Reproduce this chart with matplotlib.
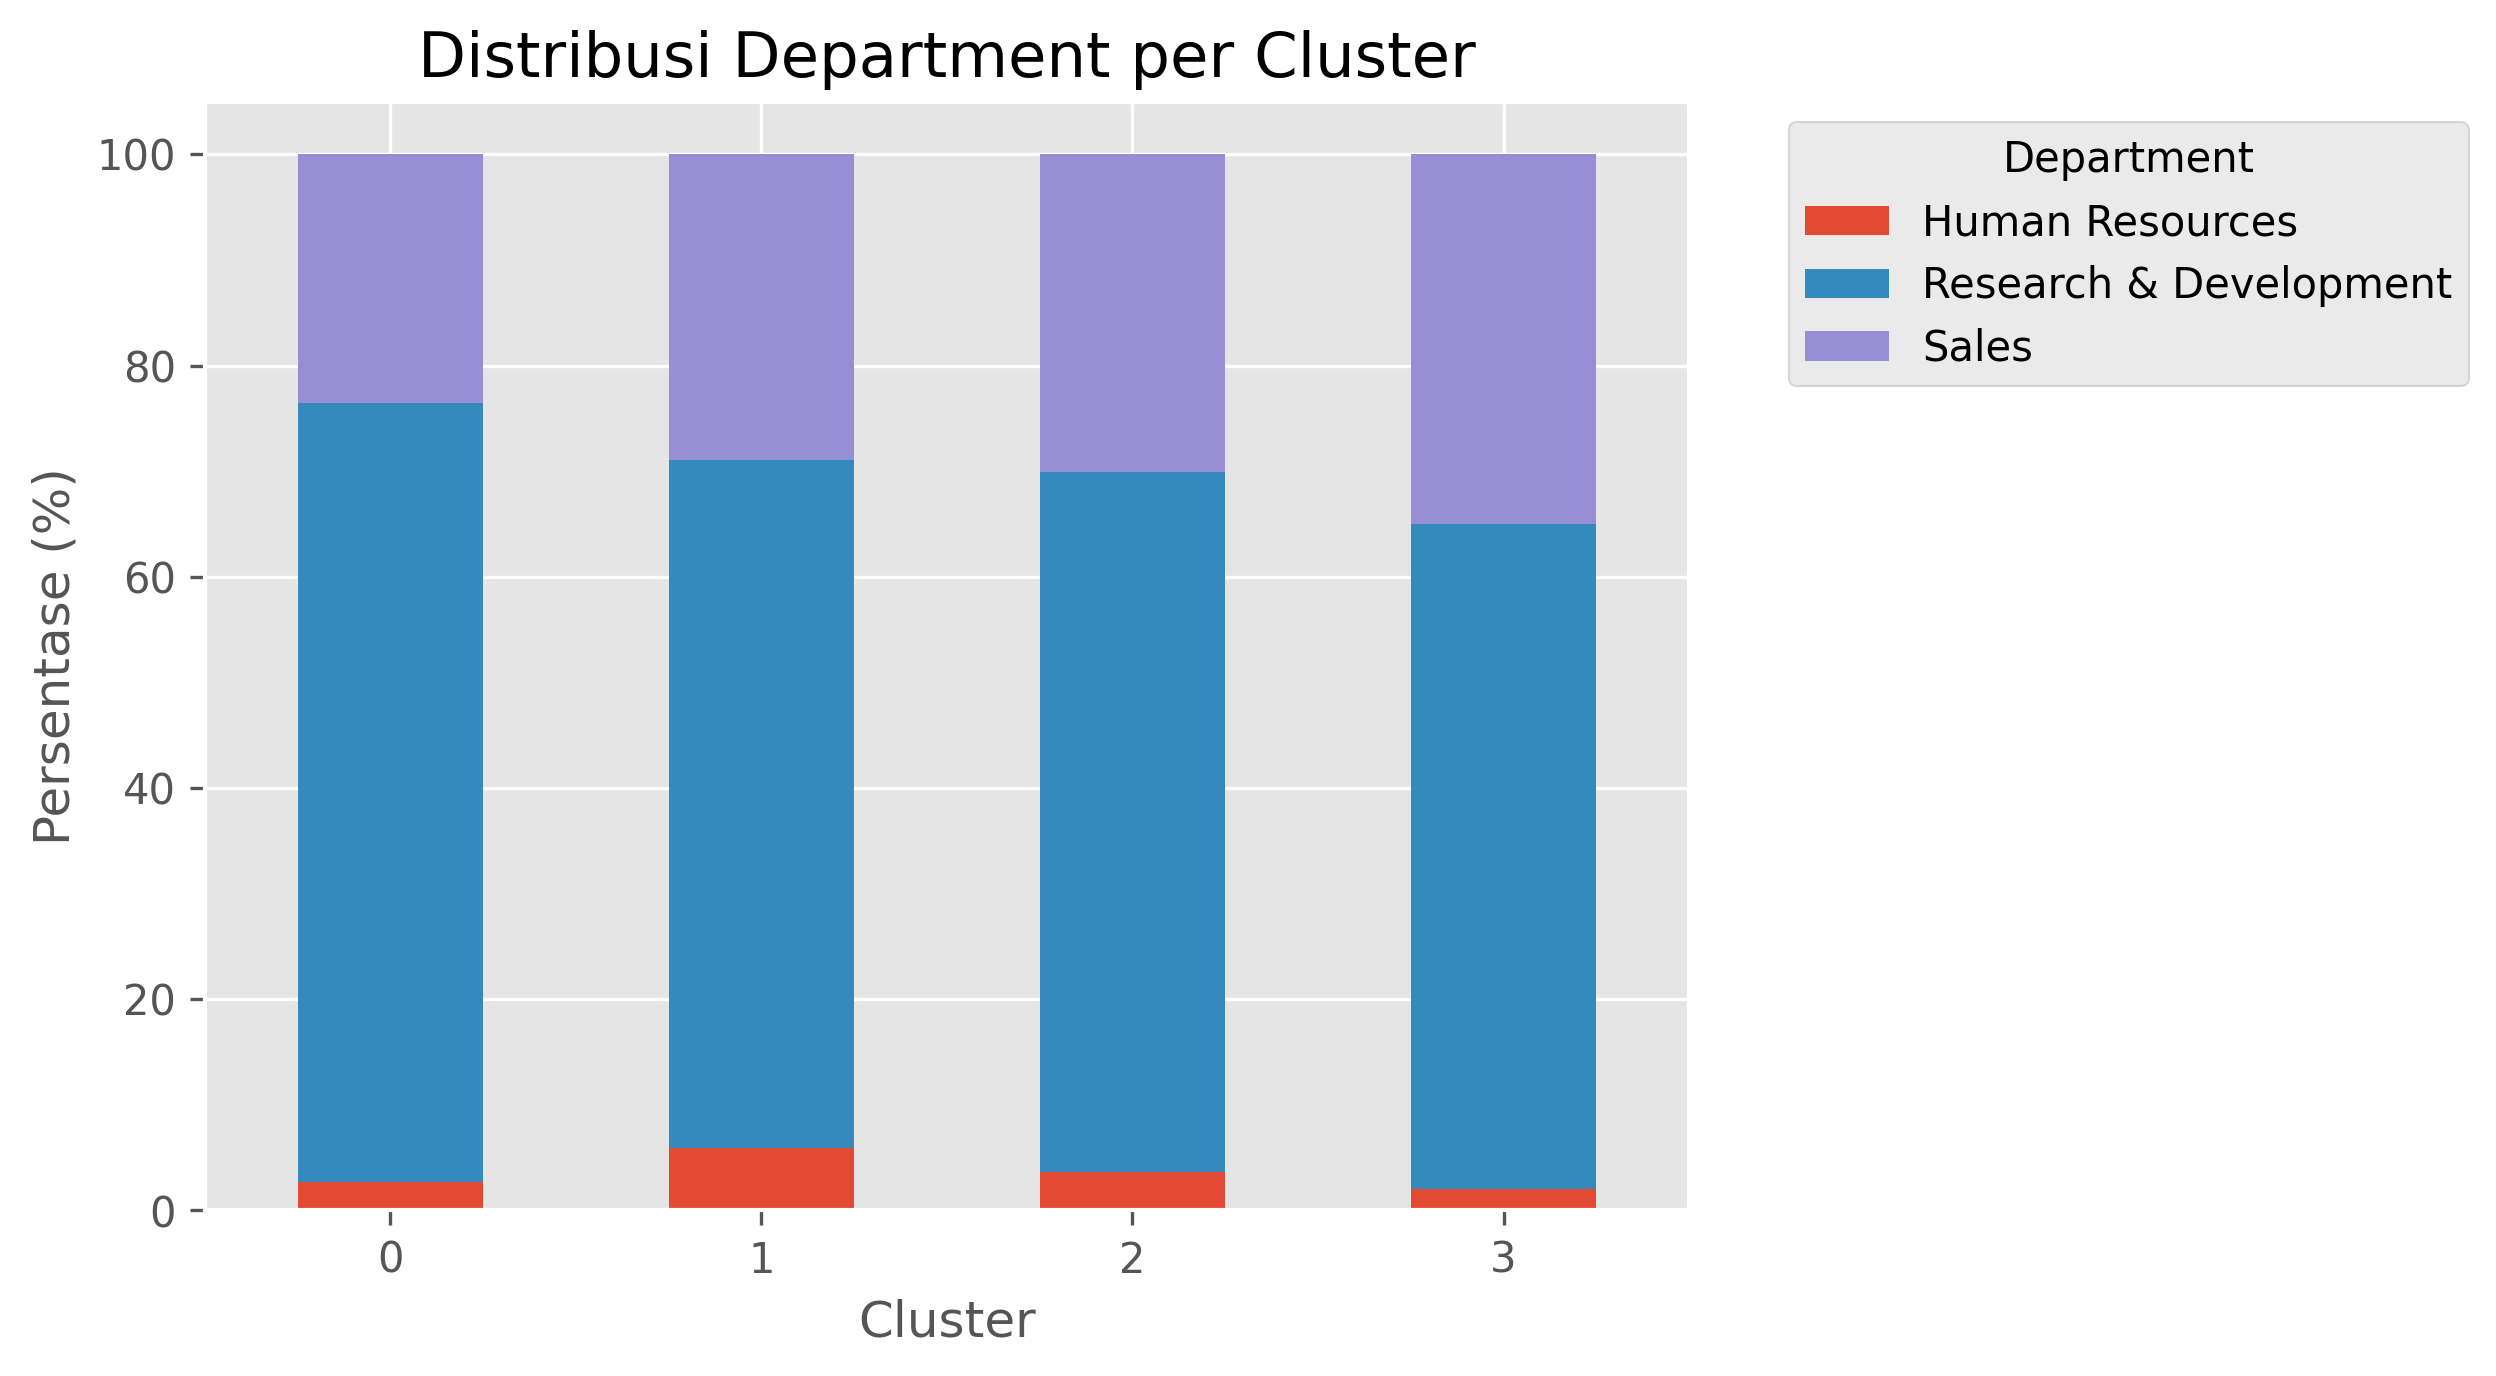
import matplotlib
matplotlib.use("Agg")
import matplotlib.pyplot as plt
import numpy as np

plt.style.use('ggplot')

# percentages per cluster
clusters = ['0', '1', '2', '3']
departments = ['Human Resources', 'Research & Development', 'Sales']
hr = [2.7, 5.9, 3.6, 2.0]
rnd = [73.8, 65.2, 66.3, 63.0]
sales = [23.5, 28.9, 30.1, 35.0]

fig = plt.figure(figsize=(8.32, 4.587), dpi=300)
ax = fig.add_axes([0.0821, 0.1203, 0.5946, 0.8058])

x = np.arange(len(clusters))
bottom = np.zeros(len(clusters))
for name, vals in zip(departments, [hr, rnd, sales]):
    ax.bar(x, vals, width=0.5, bottom=bottom, label=name)
    bottom += np.array(vals)

ax.set_xticks(x)
ax.set_xticklabels(clusters, rotation=0)
ax.set_xlim(-0.5, len(clusters) - 0.5)
ax.set_ylim(0, 105)

ax.set_title('Distribusi Department per Cluster', fontsize=15)
ax.set_xlabel('Cluster')
ax.set_ylabel('Persentase (%)')
ax.legend(title='Department', bbox_to_anchor=(1.053, 1), loc='upper left')

fig.savefig('out.png', dpi=300)
